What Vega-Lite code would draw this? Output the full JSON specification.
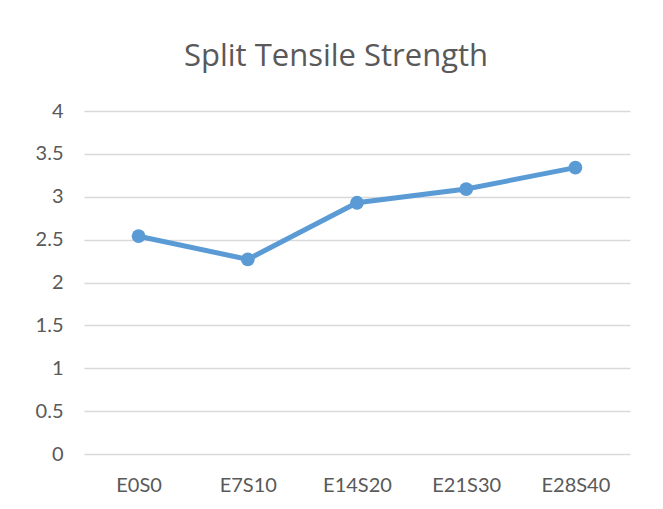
{
  "$schema": "https://vega.github.io/schema/vega-lite/v6.json",
  "width": 546,
  "height": 343,
  "autosize": "none",
  "padding": {"left": 84, "top": 111, "right": 33, "bottom": 55},
  "background": "white",
  "title": {
    "text": "Split Tensile Strength",
    "font": "Open Sans",
    "fontSize": 31,
    "fontWeight": "normal",
    "color": "#595959",
    "anchor": "middle",
    "baseline": "alphabetic",
    "offset": 4,
    "dx": -21
  },
  "config": {
    "view": {"stroke": null},
    "axis": {"labelFont": "Lato", "labelColor": "#595959", "labelFontSize": 20}
  },
  "data": {
    "values": [
      {"mix": "E0S0", "strength": 2.54},
      {"mix": "E7S10", "strength": 2.27},
      {"mix": "E14S20", "strength": 2.93},
      {"mix": "E21S30", "strength": 3.09},
      {"mix": "E28S40", "strength": 3.34}
    ]
  },
  "mark": {"type": "line", "color": "#5b9bd5", "strokeWidth": 5, "point": {"filled": true, "size": 190, "color": "#5b9bd5"}},
  "encoding": {
    "x": {
      "field": "mix",
      "type": "nominal",
      "sort": null,
      "scale": {"type": "point", "padding": 0.5},
      "axis": {"title": null, "labelAngle": 0, "domain": false, "ticks": false, "grid": false, "labelPadding": 21}
    },
    "y": {
      "field": "strength",
      "type": "quantitative",
      "scale": {"domain": [0, 4]},
      "axis": {
        "title": null,
        "values": [0, 0.5, 1, 1.5, 2, 2.5, 3, 3.5, 4],
        "format": "~g",
        "domain": false,
        "ticks": false,
        "gridColor": "#d9d9d9",
        "gridWidth": 1.5,
        "labelPadding": 21
      }
    }
  }
}
